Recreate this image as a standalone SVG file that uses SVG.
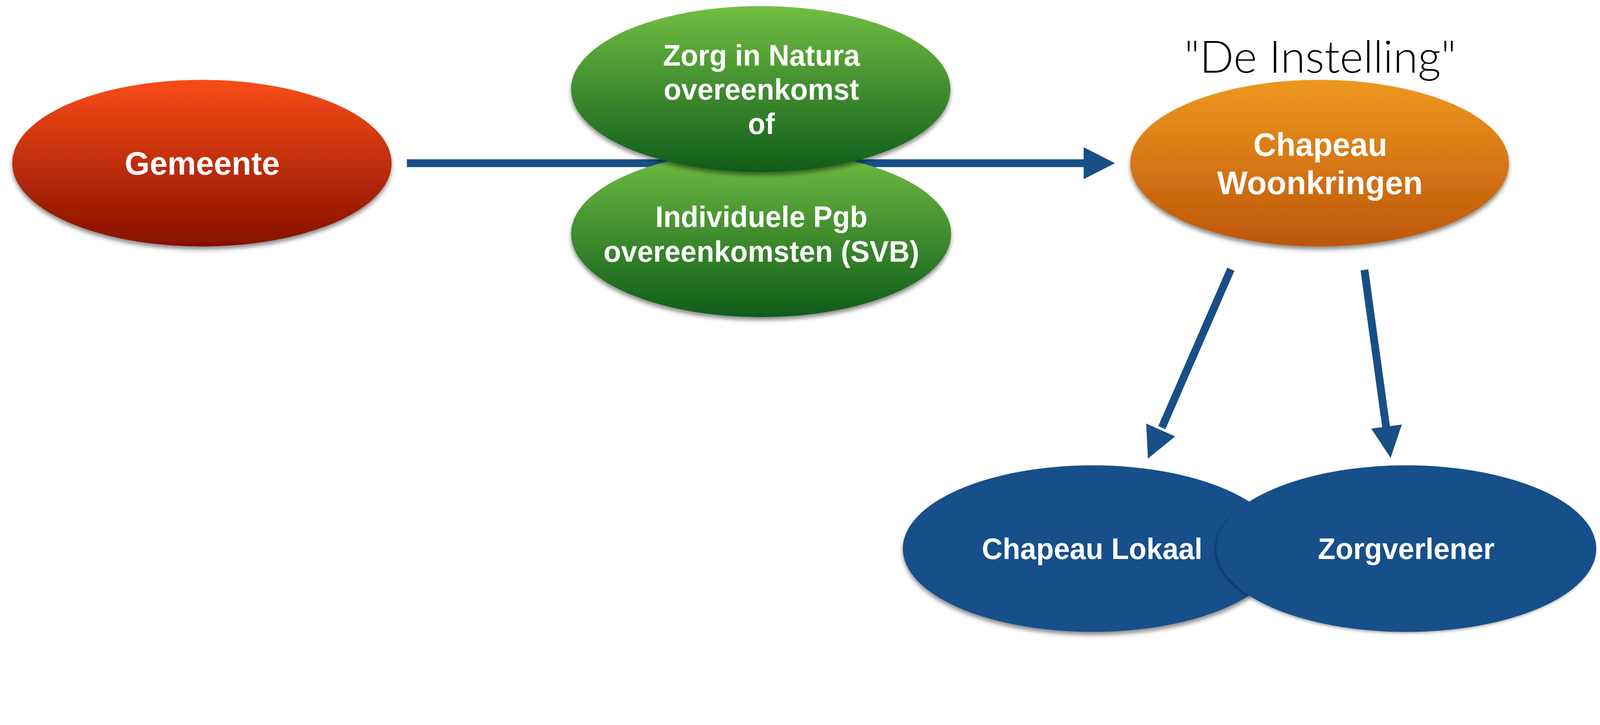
<svg xmlns="http://www.w3.org/2000/svg" width="4707" height="1856" viewBox="0 0 4707 1856" preserveAspectRatio="xMinYMin meet">
<defs>
<linearGradient id="gRed" x1="0" y1="0" x2="0" y2="1"><stop offset="0" stop-color="#F94C16"/><stop offset="1" stop-color="#861000"/></linearGradient>
<linearGradient id="gGreen" x1="0" y1="0" x2="0" y2="1"><stop offset="0" stop-color="#72BE43"/><stop offset="1" stop-color="#0F5C1A"/></linearGradient>
<linearGradient id="gOrange" x1="0" y1="0" x2="0" y2="1"><stop offset="0" stop-color="#EE981F"/><stop offset="1" stop-color="#BD560B"/></linearGradient>
<filter id="sh" x="-10%" y="-10%" width="120%" height="130%"><feDropShadow dx="0" dy="9" stdDeviation="6" flood-color="#000" flood-opacity="0.45"/></filter>
<filter id="sh2" x="-10%" y="-10%" width="120%" height="130%"><feDropShadow dx="-3" dy="4" stdDeviation="4" flood-color="#000" flood-opacity="0.35"/></filter>
</defs>
<style>
svg{width:100vw;height:100vh;overflow:hidden}
.lbl{font-family:"Liberation Sans",Arial,Helvetica,sans-serif;font-weight:bold;fill:#fff;text-anchor:middle}
.big{font-size:96px}
.mid{font-size:87px}
.conn{stroke:#184F86;stroke-width:23;fill:none;stroke-linecap:butt}
.head{fill:#184F86}
.title{font-family:Lato,"Liberation Sans",Arial,sans-serif;font-weight:300;font-size:132px;fill:#000;text-anchor:middle}
</style>
<g id="connectors">
<line class="conn" x1="1197" y1="480" x2="3192" y2="480"/>
<polygon class="head" points="3188,433 3280,480 3188,527"/>
<line class="conn" x1="3621" y1="792" x2="3418" y2="1258"/>
<polygon class="head" points="3372,1246 3457,1284 3377,1349"/>
<line class="conn" x1="4014" y1="794" x2="4078" y2="1258"/>
<polygon class="head" points="4034,1261 4124,1249 4091,1347"/>
</g>
<g id="gemeente">
<ellipse cx="594" cy="480" rx="558" ry="245" fill="url(#gRed)" filter="url(#sh)"/>
<text class="lbl big" x="595" y="514" textLength="456" lengthAdjust="spacingAndGlyphs">Gemeente</text>
</g>
<g id="pgb">
<ellipse cx="2239" cy="688" rx="559" ry="245" fill="url(#gGreen)" filter="url(#sh)"/>
<text class="lbl mid" x="2240" y="668" textLength="624" lengthAdjust="spacingAndGlyphs">Individuele Pgb</text>
<text class="lbl mid" x="2240" y="770" textLength="929" lengthAdjust="spacingAndGlyphs">overeenkomsten (SVB)</text>
</g>
<g id="zin">
<ellipse cx="2238" cy="262" rx="558" ry="244" fill="url(#gGreen)" filter="url(#sh)"/>
<text class="lbl mid" x="2240" y="193" textLength="579" lengthAdjust="spacingAndGlyphs">Zorg in Natura</text>
<text class="lbl mid" x="2240" y="293" textLength="575" lengthAdjust="spacingAndGlyphs">overeenkomst</text>
<text class="lbl mid" x="2240" y="394" textLength="79" lengthAdjust="spacingAndGlyphs">of</text>
</g>
<g id="instelling-label">
<text class="title" x="3884" y="214" textLength="800" lengthAdjust="spacingAndGlyphs">"De Instelling"</text>
</g>
<g id="chapeau-woonkringen">
<ellipse cx="3882" cy="480" rx="557" ry="245" fill="url(#gOrange)" filter="url(#sh)"/>
<text class="lbl big" x="3884" y="458" textLength="394" lengthAdjust="spacingAndGlyphs">Chapeau</text>
<text class="lbl big" x="3883" y="571" textLength="605" lengthAdjust="spacingAndGlyphs">Woonkringen</text>
</g>
<g id="chapeau-lokaal">
<ellipse cx="3214" cy="1614" rx="558" ry="245" fill="#19508A" filter="url(#sh)"/>
<text class="lbl mid" x="3213" y="1644" textLength="649" lengthAdjust="spacingAndGlyphs">Chapeau Lokaal</text>
</g>
<g id="zorgverlener">
<ellipse cx="4137" cy="1614" rx="559" ry="245" fill="#19508A" filter="url(#sh2)"/>
<text class="lbl mid" x="4137" y="1644" textLength="520" lengthAdjust="spacingAndGlyphs">Zorgverlener</text>
</g>
</svg>
